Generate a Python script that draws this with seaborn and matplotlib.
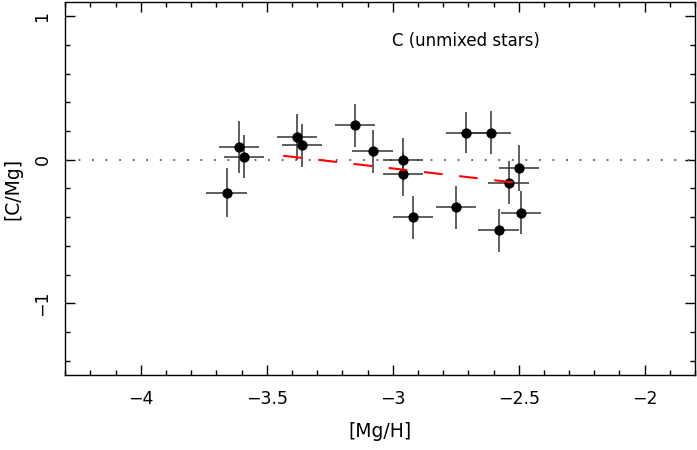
import numpy as np
import pandas as pd
import matplotlib
matplotlib.use("Agg")
import matplotlib.pyplot as plt
from matplotlib.ticker import MultipleLocator
import seaborn as sns

# data
mg_h = [-3.66, -3.61, -3.59, -3.38, -3.36, -3.15, -3.08, -2.96, -2.96,
        -2.92, -2.75, -2.71, -2.61, -2.54, -2.50, -2.49, -2.58]
c_mg = [-0.23, 0.09, 0.02, 0.16, 0.10, 0.24, 0.06, 0.00, -0.10,
        -0.40, -0.33, 0.19, 0.19, -0.16, -0.06, -0.37, -0.49]
x_err = [0.08] * 17
y_err = [0.17, 0.18, 0.15, 0.16, 0.15, 0.15, 0.15, 0.15, 0.15,
         0.15, 0.15, 0.14, 0.15, 0.15, 0.16, 0.15, 0.15]

# fitted trend (red dashed)
fit_x = [-3.435, -2.50]
fit_y = [0.028, -0.162]

df = pd.DataFrame({"Mg/H": mg_h, "C/Mg": c_mg})

sns.set_style("ticks")
plt.rcParams["font.family"] = ["DejaVu Sans"]
plt.rcParams["text.color"] = "black"
plt.rcParams["axes.labelcolor"] = "black"
plt.rcParams["xtick.color"] = "black"
plt.rcParams["ytick.color"] = "black"

fig = plt.figure(figsize=(6.97, 4.5), dpi=100)
ax = fig.add_axes([0.0937, 0.1667, 0.9035, 0.8289])

# zero line
ax.axhline(0, color="0.35", lw=1.3, linestyle=(0, (1, 6.5)), zorder=1)

# error bars
ax.errorbar(mg_h, c_mg, xerr=x_err, yerr=y_err, fmt="none",
            ecolor="0.2", elinewidth=1.1, capsize=0, zorder=2)

# points
sns.scatterplot(data=df, x="Mg/H", y="C/Mg", color="black", s=55,
                edgecolor="black", linewidth=0, ax=ax, zorder=3)

# trend line
ax.plot(fit_x, fit_y, color="red", lw=1.5, linestyle=(0, (9, 8)), zorder=4)

ax.text(-3.004, 0.826, "C (unmixed stars)", fontsize=12, va="center", ha="left")

ax.set_xlim(-4.3, -1.8)
ax.set_ylim(-1.5, 1.1)
ax.xaxis.set_major_locator(MultipleLocator(0.5))
ax.xaxis.set_minor_locator(MultipleLocator(0.1))
ax.yaxis.set_major_locator(MultipleLocator(1))
ax.yaxis.set_minor_locator(MultipleLocator(0.2))
ax.set_xticks([-4, -3.5, -3, -2.5, -2])
ax.set_xticklabels(["\u22124", "\u22123.5", "\u22123", "\u22122.5", "\u22122"])
ax.set_yticks([-1, 0, 1])
ax.set_yticklabels(["\u22121", "0", "1"])

ax.tick_params(which="both", direction="in", top=True, right=True,
               width=1.0, color="black", labelcolor="black")
ax.tick_params(which="major", length=7.2, labelsize=12.5)
ax.tick_params(which="minor", length=3.6)
ax.tick_params(axis="x", which="major", pad=11)
ax.tick_params(axis="y", which="major", pad=10, labelrotation=90)
for lab in ax.get_yticklabels():
    lab.set_va("center")

for sp in ax.spines.values():
    sp.set_linewidth(1.0)
    sp.set_color("black")

ax.set_xlabel("[Mg/H]", fontsize=13.5, labelpad=10, color="black")
ax.set_ylabel("[C/Mg]", fontsize=13.5, labelpad=8, color="black")

fig.savefig("out.png", dpi=100)
